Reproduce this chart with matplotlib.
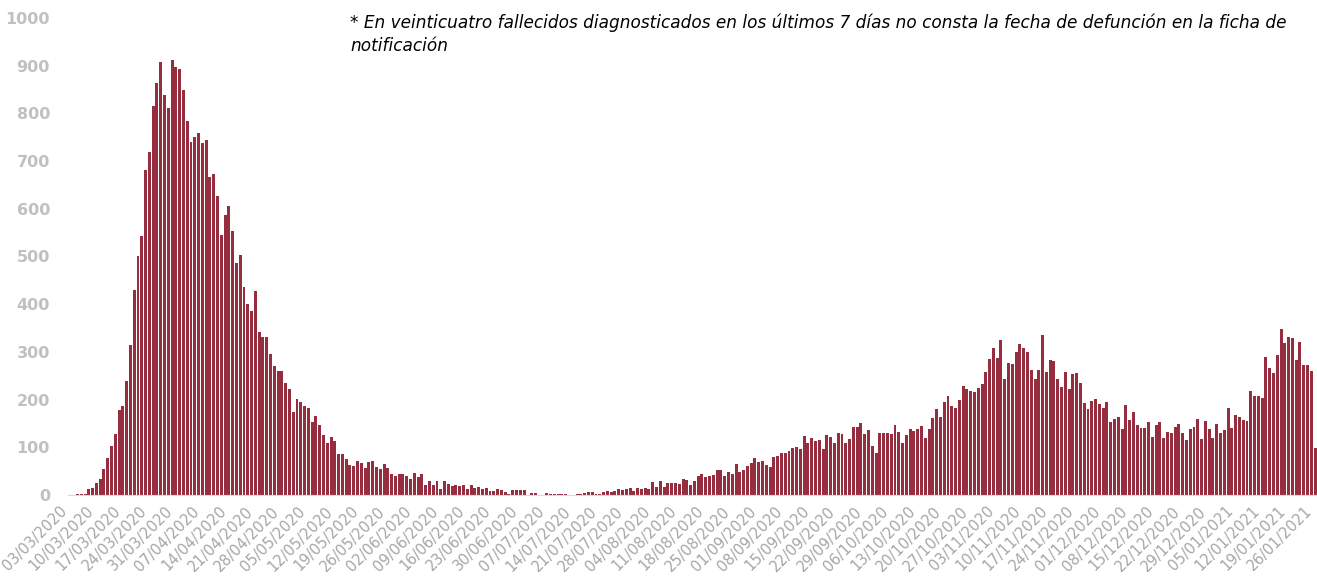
import numpy as np
import pandas as pd
import matplotlib
matplotlib.use("Agg")
import matplotlib.pyplot as plt
import matplotlib.transforms as mtransforms

# fallecidos por fecha de defuncion, desde 03/03/2020
fallecidos = [
    1, 1, 2, 2, 3,
    12, 14, 25, 34, 54, 77, 103, 128, 178, 186, 238, 314, 429, 502, 544,
    681, 719, 815, 863, 908, 839, 811,
    912, 898, 894, 850, 784, 739, 750, 759, 737, 745, 667, 674, 627, 545,
    588, 606, 554, 486, 504, 437, 401, 386, 428, 342, 331, 331, 296,
    271, 259, 259, 235, 223, 175, 201, 196, 186, 182, 152, 165, 146, 125,
    110, 122, 113, 87, 86, 76, 63, 60, 72, 67, 56, 69, 72,
    58, 54, 66, 56, 44, 40, 43, 43, 39, 34, 47, 38, 44, 22, 30, 20, 29,
    13, 29, 24, 19, 21, 19, 20, 12, 22,
    14, 16, 13, 15, 8, 9, 12, 10, 6, 2, 10, 10, 10, 10, 1, 5, 5, 1, 1,
    4, 3, 3, 3, 3, 2, 1, 1, 2, 3,
    4, 6, 6, 2, 2, 7, 8, 7, 8, 12, 10, 13, 15, 9, 14, 13, 15, 12, 28, 16,
    30, 16, 26, 26, 25, 23, 33, 31,
    21, 29, 39, 45, 37, 40, 41, 52, 52, 40, 48, 45, 66, 49, 52, 61, 68, 78,
    70, 71, 63, 59, 80, 81, 89, 89, 92, 98, 101,
    97, 124, 108, 120, 114, 116, 96, 125, 122, 110, 129, 127, 110, 118, 143,
    143, 150, 127, 136, 103, 89, 130, 129, 131, 128, 147, 132, 110, 125,
    138, 134, 138, 144, 119, 138, 162, 180, 163, 196, 208, 186, 182, 200,
    229, 222, 218, 215, 224, 233, 257, 286, 309, 287, 324, 244, 277, 275, 300,
    317, 308, 300, 263, 244, 262, 335, 258, 283, 281, 244, 227, 257, 223,
    254, 256, 235, 192, 180, 198, 201, 191, 183, 194, 153, 159, 163, 138, 188,
    157, 173, 146, 140, 141, 153, 121, 146, 153, 119, 133, 129, 143, 148,
    131, 115, 139, 143, 159, 117, 156, 138, 119, 149, 131, 136, 182,
    141, 167, 164, 158, 155, 217, 208, 207, 204, 290, 267, 255, 293, 348,
    318, 331, 329, 283, 321, 272, 272, 261, 99,
]
fechas = pd.date_range("2020-03-03", periods=len(fallecidos), freq="D")
etiquetas = [f.strftime("%d/%m/%Y") for f in fechas]

nota = ("* En veinticuatro fallecidos diagnosticados en los últimos 7 días no consta la fecha de defunción en la ficha de\n"
        "notificación")

fig = plt.figure(figsize=(13.17, 5.79), dpi=100)
ax = fig.add_axes([68 / 1317, 1 - 495 / 579, 1 - 68 / 1317, (495 - 18) / 579])

x = np.arange(len(fallecidos))
ax.bar(x, fallecidos, width=0.78, color="#972E40", edgecolor="none")

ax.set_xlim(-0.5, len(fallecidos) - 0.5)
ax.set_ylim(0, 1000)
ax.set_yticks(range(0, 1001, 100))
ax.tick_params(axis="y", length=0, pad=13, labelsize=11.5, labelcolor="#C0C0C0")
for t in ax.get_yticklabels():
    t.set_fontweight("semibold")

ticks = x[::7]
ax.set_xticks(ticks)
ax.set_xticklabels([etiquetas[i] for i in ticks], rotation=45, ha="right",
                   va="center", rotation_mode="anchor", fontsize=10.5, color="#A6A6A6")
ax.tick_params(axis="x", length=0, pad=10)
desplaza = mtransforms.ScaledTranslation(-5 / 100, 0, fig.dpi_scale_trans)
for t in ax.get_xticklabels():
    t.set_transform(t.get_transform() + desplaza)

for s in ["top", "right", "left"]:
    ax.spines[s].set_visible(False)
ax.spines["bottom"].set_color("#D9D9D9")

fig.text(350 / 1317, 1 - 14 / 579, nota, style="italic", fontsize=12.2,
         va="top", ha="left", color="black", linespacing=1.35)

fig.savefig("out.png", dpi=100)
